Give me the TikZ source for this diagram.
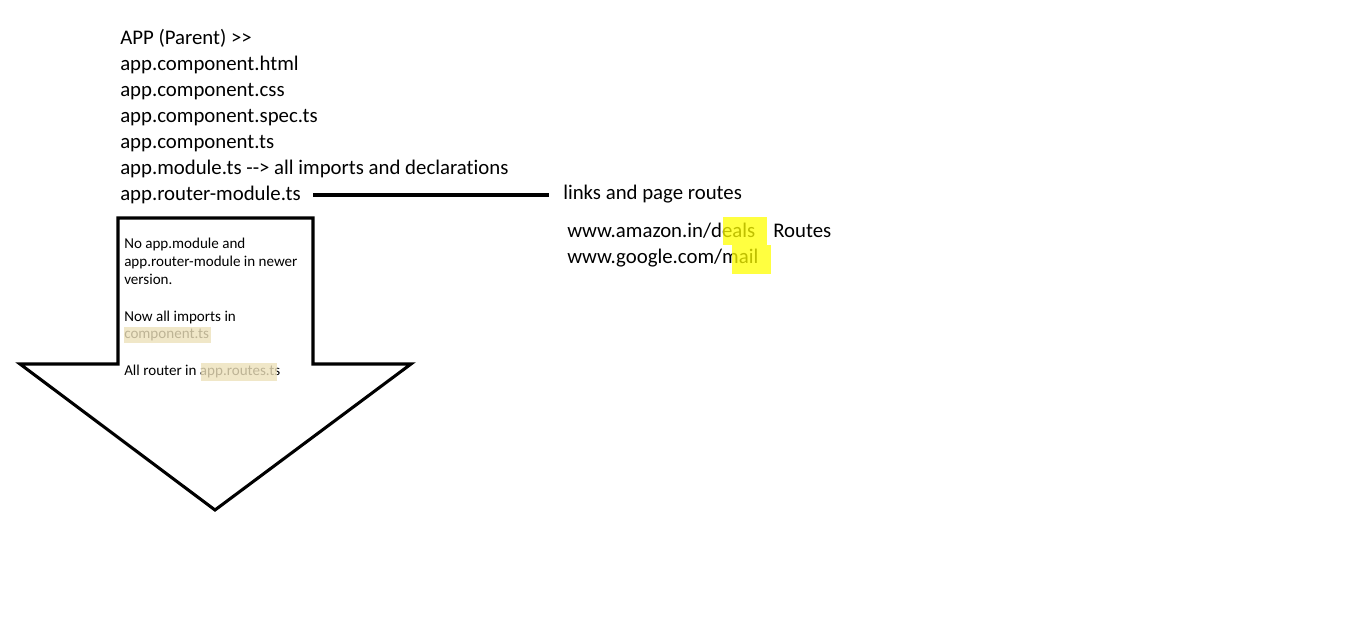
\documentclass[tikz,border=0pt]{standalone}
\usepackage{fontspec}
\newfontfamily\calib{Carlito}[Ligatures={NoCommon}]
\begin{document}
\begin{tikzpicture}[x=0.75pt,y=-0.75pt,
  big/.style={inner sep=0pt,anchor=base west,font=\calib\fontsize{15.6}{19}\selectfont},
  small/.style={inner sep=0pt,anchor=base west,font=\calib\fontsize{11.3}{13.5}\selectfont},
  outline/.style={line width=2.3pt,line join=miter},
  hlyellow/.style={fill={rgb,255:red,255;green,255;blue,0},fill opacity=0.75,draw=none},
  hltan/.style={fill={rgb,255:red,237;green,225;blue,187},fill opacity=0.8,draw=none}]
\useasboundingbox (0,0) rectangle (1360,620);
\fill[white] (0,0) rectangle (1360,620);
% arrow
\draw[outline] (118,218) -- (313,218) -- (313,364) -- (411,364) -- (215,510) -- (20,364) -- (118,364) -- cycle;
% main list
\node[big] (t1) at (120,45) {APP (Parent) >>};
\node[big] (t2) at (120,71) {app.component.html};
\node[big] (t3) at (120,97) {app.component.css};
\node[big] (t4) at (120,123) {app.component.spec.ts};
\node[big] (t5) at (120,149) {app.component.ts};
\node[big] (t6) at (120,175) {app.module.ts --> all imports and declarations};
\node[big] (t7) at (120,201) {app.router-module.ts};
\node[big] (links) at (563,200) {links and page routes};
\node[big] (amz) at (567,238) {www.amazon.in/deals};
\node[big] (routes) at (773,238) {Routes};
\node[big] (ggl) at (567,264) {www.google.com/mail};
% connector
\coordinate (ls) at (313,195);
\coordinate (le) at (549,195);
\draw[line width=2.3pt] (ls) -- (le);
% small notes
\node[small] (n1) at (124,249) {No app.module and};
\node[small] (n2) at (124,267) {app.router-module in newer};
\node[small] (n3) at (124,285) {version.};
\node[small] (n4) at (124,321) {Now all imports in};
\node[small] (n5) at (124,339) {component.ts};
\node[small] (n6) at (124,375) {All router in app.routes.ts};
% highlights
\path[hltan] (124,327) rectangle (211,343);
\path[hltan] (201,363) rectangle (277,381);
\path[hlyellow] (723,217) rectangle (767,245);
\path[hlyellow] (732,245) rectangle (771,274);
\end{tikzpicture}
\end{document}
